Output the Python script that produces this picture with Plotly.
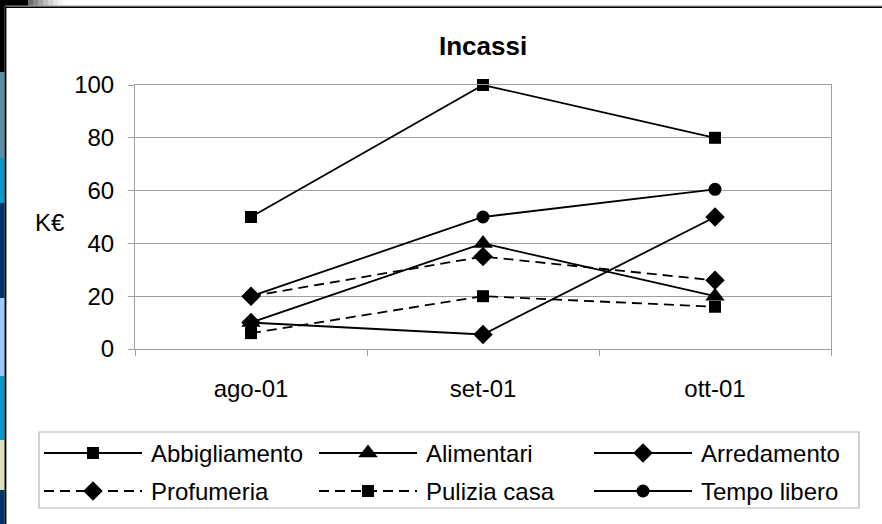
import plotly.graph_objects as go

W, H = 882, 524

# ---------------- data ----------------
categories = ["ago-01", "set-01", "ott-01"]
abbigliamento = [50, 100, 80]
alimentari = [10, 40, 20]
arredamento = [10, 5.5, 50]
profumeria = [20, 35, 26]
pulizia_casa = [6, 20, 16]
tempo_libero = [20, 50, 60.5]
series_names = ["Abbigliamento", "Alimentari", "Arredamento",
                "Profumeria", "Pulizia casa", "Tempo libero"]
series_values = [abbigliamento, alimentari, arredamento,
                 profumeria, pulizia_casa, tempo_libero]
y_ticks = [0, 20, 40, 60, 80, 100]
title_text = "Incassi"
y_label = "K€"

# ---------------- styles ----------------
symbols = ["square", "triangle-up", "diamond", "diamond", "square", "circle"]
sizes = [12, 17, 15, 15, 12, 13]
dashes = ["solid", "solid", "solid", "10px,6px", "10px,6px", "solid"]

FONT = "Liberation Sans, Arial, sans-serif"
GRID = "#a0a0a0"


def px(x, y):
    return x / W, 1 - y / H


fig = go.Figure()

for name, vals, sym, sz, dash in zip(series_names, series_values, symbols, sizes, dashes):
    fig.add_trace(go.Scatter(
        x=categories, y=vals, name=name, mode="lines+markers",
        line=dict(color="black", width=1.8, dash=dash),
        marker=dict(symbol=sym, size=sz, color="black", line=dict(width=0)),
        showlegend=False, xaxis="x", yaxis="y", cliponaxis=False,
    ))

# ---------------- custom legend (own axes, pixel ranges) ----------------
LX0, LX1, LY0, LY1 = 39, 859, 432, 508
col_x = [44, 319, 594]
row_y = [453, 491]
line_len = 98
for i, (name, sym, sz, dash) in enumerate(zip(series_names, symbols, sizes, dashes)):
    cx = col_x[i % 3]
    ry = row_y[i // 3]
    fig.add_trace(go.Scatter(
        x=[cx, cx + line_len], y=[ry, ry], mode="lines",
        line=dict(color="black", width=1.8, dash=dash),
        showlegend=False, xaxis="x2", yaxis="y2", hoverinfo="skip",
    ))
    fig.add_trace(go.Scatter(
        x=[cx + line_len / 2], y=[ry], mode="markers",
        marker=dict(symbol=sym, size=sz, color="black", line=dict(width=0)),
        showlegend=False, xaxis="x2", yaxis="y2", hoverinfo="skip",
    ))

annotations = []
for i, name in enumerate(series_names):
    cx = col_x[i % 3] + line_len + 7
    ry = row_y[i // 3]
    ax, ay = px(cx, ry)
    annotations.append(dict(x=ax, y=ay, xref="paper", yref="paper", text=name,
                            showarrow=False, xanchor="left", yanchor="middle",
                            font=dict(family=FONT, size=24, color="black")))

tx, ty = px(483, 46)
annotations.append(dict(x=tx, y=ty, xref="paper", yref="paper",
                        text="<b>" + title_text + "</b>", showarrow=False,
                        xanchor="center", yanchor="middle",
                        font=dict(family=FONT, size=26, color="black")))
kx, ky = px(50, 222)
annotations.append(dict(x=kx, y=ky, xref="paper", yref="paper", text=y_label,
                        showarrow=False, xanchor="center", yanchor="middle",
                        font=dict(family=FONT, size=24, color="black")))

# ---------------- decoration shapes ----------------
shapes = []


def rect(x0, y0, x1, y1, color, layer="above"):
    a0, b0 = px(x0, y0)
    a1, b1 = px(x1, y1)
    shapes.append(dict(type="rect", xref="paper", yref="paper", x0=a0, y0=b1, x1=a1, y1=b0,
                       fillcolor=color, line=dict(width=0), layer=layer))


strip = [(0, 72, "#000000"), (72, 158, "#5b8fa8"), (158, 203, "#0099cc"),
         (203, 298, "#003366"), (298, 376, "#99ccff"), (376, 440, "#0099cc"),
         (440, 490, "#e0e0b8"), (490, 524, "#003366")]
for y0, y1, c in strip:
    rect(0, y0, 4.5, y1, c)
rect(4.5, 0, 6, 524, "#000000")
rect(6, 6, 7, 524, "#9a9a9a")
rect(0, 0, 28, 6, "#000000")
grad = ["#6e6e6e", "#8a8a8a", "#a4a4a4", "#bcbcbc", "#d2d2d2", "#e4e4e4", "#f2f2f2", "#fbfbfb"]
for k, c in enumerate(grad):
    rect(28 + k * 5, 0, 28 + (k + 1) * 5, 6, c)
rect(5, 5.5, 882, 6.5, "#9a9a9a")
rect(5, 6.5, 882, 8, "#000000")

# legend box
lx0, ly0 = px(LX0, LY0)
lx1, ly1 = px(LX1, LY1)
shapes.append(dict(type="rect", xref="paper", yref="paper", x0=lx0, y0=ly1, x1=lx1, y1=ly0,
                   line=dict(color="#b4b4b4", width=1.2), fillcolor="rgba(0,0,0,0)", layer="below"))

xd0, _ = px(135, 0)
xd1, _ = px(831, 0)
_, yd1 = px(0, 85)
_, yd0 = px(0, 349)

fig.update_layout(
    width=W, height=H,
    margin=dict(l=0, r=0, t=0, b=0, pad=0, autoexpand=False),
    paper_bgcolor="white", plot_bgcolor="white",
    font=dict(family=FONT, size=24, color="black"),
    showlegend=False,
    xaxis=dict(domain=[xd0, xd1], type="category", range=[-0.5, 2.5], automargin=False,
               showline=True, linecolor=GRID, linewidth=1, mirror=True,
               ticks="outside", tickson="boundaries", ticklen=6, tickcolor=GRID,
               tickfont=dict(family=FONT, size=24, color="black"),
               ticklabelstandoff=18, showgrid=False, zeroline=False, fixedrange=True),
    yaxis=dict(domain=[yd0, yd1], range=[0, 100], tickvals=y_ticks, automargin=False,
               showline=True, linecolor=GRID, linewidth=1, mirror=True,
               showgrid=True, gridcolor=GRID, gridwidth=1,
               ticks="outside", ticklen=6, tickcolor=GRID,
               tickfont=dict(family=FONT, size=24, color="black"),
               ticklabelstandoff=9, zeroline=False, fixedrange=True),
    xaxis2=dict(domain=[lx0, lx1], range=[LX0, LX1], visible=False, fixedrange=True,
                anchor="y2", automargin=False),
    yaxis2=dict(domain=[ly1, ly0], range=[LY1, LY0], visible=False, fixedrange=True,
                anchor="x2", automargin=False),
    annotations=annotations,
    shapes=shapes,
)

fig.write_html("out.html", config={"displayModeBar": False},
               post_script="document.body.style.margin='0';document.body.style.overflow='hidden';")
